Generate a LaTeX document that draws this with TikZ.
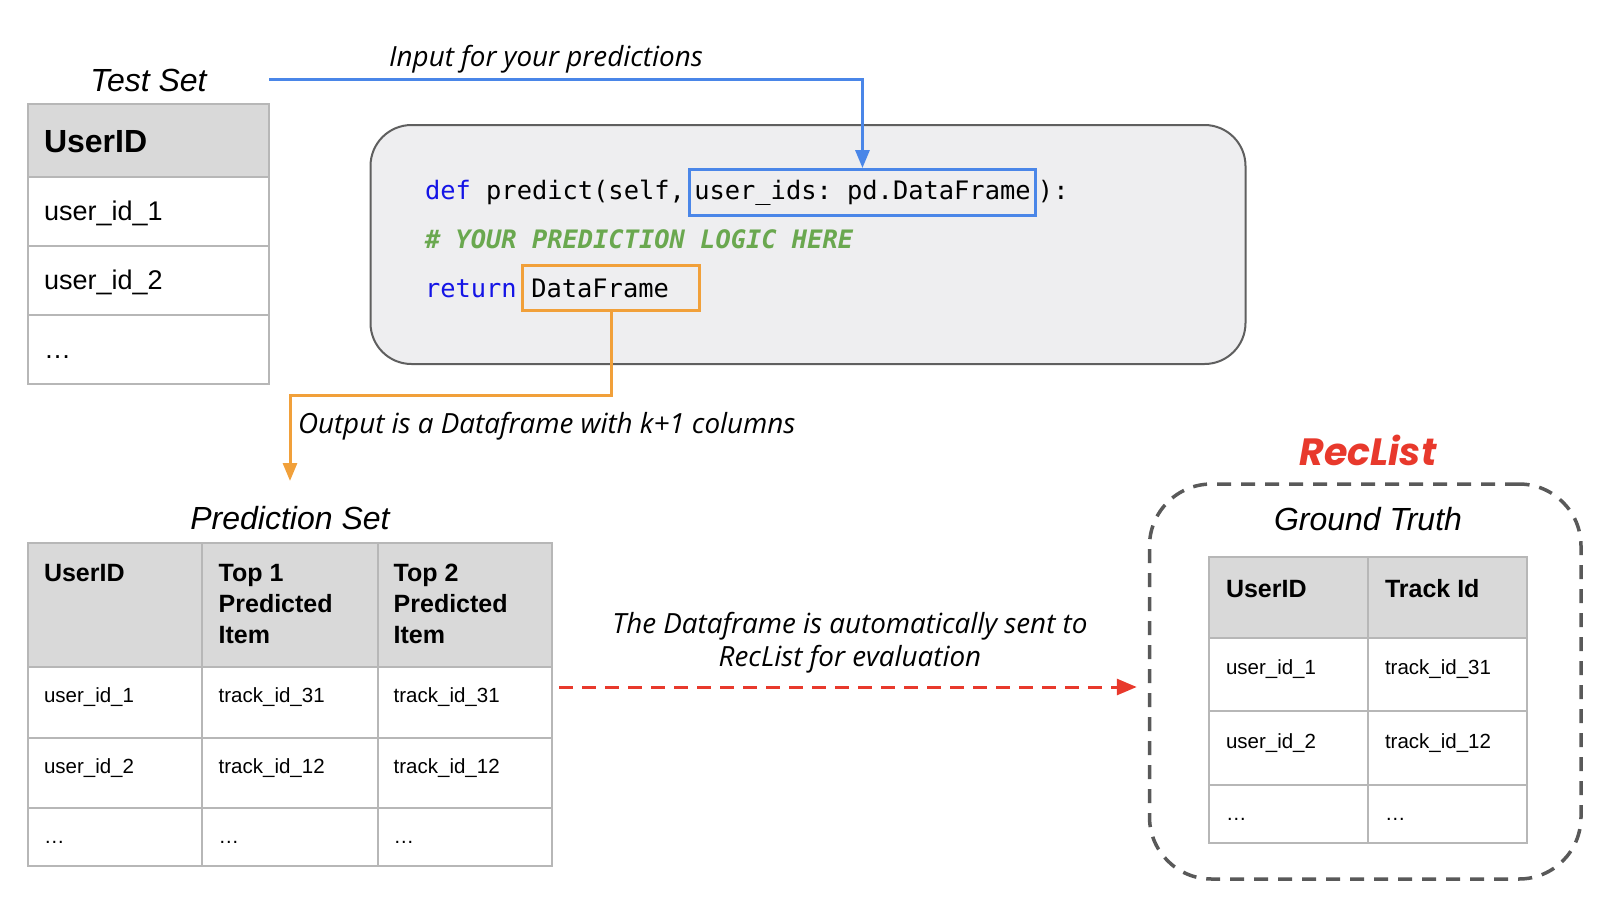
\documentclass[tikz,border=0pt]{standalone}
\usepackage{fontspec}
\setmainfont{Liberation Sans}
\newfontfamily\codefont{DejaVu Sans Mono}
\newfontfamily\notefont{Open Sans}
\newfontfamily\brandfont{Poppins}
\usetikzlibrary{positioning,arrows.meta}

\definecolor{inblue}{HTML}{4A86E8}
\definecolor{outorange}{HTML}{F1A03A}
\definecolor{recred}{HTML}{E8392C}
\definecolor{kwblue}{HTML}{1414E6}
\definecolor{cmtgreen}{HTML}{6AA84F}
\definecolor{gridgray}{HTML}{B7B7B7}
\definecolor{headgray}{HTML}{D9D9D9}
\definecolor{panelgray}{HTML}{EEEEF0}
\definecolor{edgegray}{HTML}{5F5F5F}
\definecolor{dashgray}{HTML}{595959}

\tikzset{
every picture/.style={
line width=2pt
},
settitle/.style={anchor=base, inner sep=0, font=\itshape\fontsize{32}{38}\selectfont},
notetext/.style={inner sep=0, font=\notefont\itshape\fontsize{27.8}{33}\selectfont},
gridline/.style={draw=gridgray, line width=2pt},
bighead/.style={anchor=base west, inner sep=0, font=\bfseries\fontsize{32}{36}\selectfont},
bigcell/.style={anchor=base west, inner sep=0, font=\fontsize{27}{32}\selectfont},
tabhead/.style={anchor=north west, inner sep=0, align=left, font=\bfseries\fontsize{25}{31}\selectfont},
tabcell/.style={anchor=base west, inner sep=0, font=\fontsize{20.5}{24}\selectfont},
codetxt/.style={inner sep=0, font=\codefont\frenchspacing\fontsize{25.4}{30}\selectfont},
codepanel/.style={draw=edgegray, fill=panelgray, rounded corners=41pt, line width=2pt},
argbox/.style={codetxt, draw=inblue, line width=3pt, inner xsep=0pt, minimum width=346pt, minimum height=45.6pt},
retbox/.style={codetxt, draw=outorange, line width=3pt, inner xsep=9pt, text width=159.6pt, minimum height=45.6pt, align=left},
recbox/.style={draw=dashgray, line width=3.5pt, dash pattern=on 14pt off 10pt, rounded corners=62pt},
inarrow/.style={draw=inblue, line width=3pt, -{Triangle[length=18pt,width=14pt]}},
outarrow/.style={draw=outorange, line width=3pt, -{Triangle[length=18pt,width=14pt]}},
evalarrow/.style={draw=recred, line width=3pt, dash pattern=on 14pt off 9pt, -{Triangle[length=20pt,width=16pt]}}
}

\begin{document}
\begin{tikzpicture}[x=1pt, y=-1pt]
\useasboundingbox (0,0) rectangle (1618,916);

% test set
\node[settitle] (testtitle) at (148.5,91) {Test Set};
\fill[headgray] (28,104) rectangle (269,176.5);
\foreach \y in {176.5,245.6,314.7} \draw[gridline] (28,\y) -- (269,\y);
\draw[gridline] (28,104) rectangle (269,384);
\node[bighead] (t-head) at (43,152) {UserID};
\foreach \u/\y [count=\r] in {user\_id\_1/220, user\_id\_2/289, …/358}
  \node[bigcell] (t-\r) at (43,\y) {\u};

% the predict() code
\node[codepanel, minimum width=875pt, minimum height=239pt] (panel) at (808,244.5) {};
\node[codetxt, anchor=base west] (sig) at (424,199) {\textcolor{kwblue}{def} predict(self,};
\node[argbox, base right=2pt of sig] (args) {user\_ids: pd.DataFrame};
\node[codetxt, base right=0pt of args] (close) {):};
\node[codetxt, anchor=base west, text=cmtgreen, font=\codefont\bfseries\itshape\fontsize{25.4}{30}\selectfont] (cmt) at (424,248) {\# YOUR PREDICTION LOGIC HERE};
\node[codetxt, anchor=base west, text=kwblue] (retkw) at (424,297) {return};
\node[retbox, base right=3pt of retkw] (ret) {DataFrame};

% input arrow
\coordinate (inStart) at (269,79.5);
\draw[inarrow] (inStart) -| (args.north);
\node[notetext, anchor=base] (inlabel) at (546,66) {Input for your predictions};

% output arrow
\coordinate (outTurn) at (290,395);
\coordinate (outEnd) at (290,481);
\draw[outarrow] (ret.south) |- (outTurn) -- (outEnd);
\node[notetext, anchor=base west] (outlabel) at (297,433) {Output is a Dataframe with k+1 columns};

% prediction set
\node[settitle] (predtitle) at (290,529.5) {Prediction Set};
\fill[headgray] (28,543) rectangle (552,666.6);
\foreach \x in {202,377.7} \draw[gridline] (\x,543) -- (\x,866);
\foreach \y in {666.6,738,808} \draw[gridline] (28,\y) -- (552,\y);
\draw[gridline] (28,543) rectangle (552,866);
\node[tabhead] (p-h1) at (43,563) {UserID};
\node[tabhead] (p-h2) at (217.7,563) {Top 1\\Predicted\\Item};
\node[tabhead] (p-h3) at (392.7,563) {Top 2\\Predicted\\Item};
\foreach \u/\a/\b/\y [count=\r] in {user\_id\_1/track\_id\_31/track\_id\_31/702, user\_id\_2/track\_id\_12/track\_id\_12/773, …/…/…/843}{
  \node[tabcell] (p-\r-1) at (43,\y) {\u};
  \node[tabcell] (p-\r-2) at (217.7,\y) {\a};
  \node[tabcell] (p-\r-3) at (392.7,\y) {\b};
}

% reclist + ground truth
\node[recbox, minimum width=431.5pt, minimum height=395pt] (gtbox) at (1365.25,681.5) {};
\node[anchor=base, inner sep=0, text=recred, font=\brandfont\bfseries\itshape\fontsize{38}{44}\selectfont] (reclist) at (1368,465) {RecList};
\node[settitle] (gttitle) at (1368,530) {Ground Truth};
\fill[headgray] (1209,557) rectangle (1527,638);
\draw[gridline] (1368,557) -- (1368,843);
\foreach \y in {638,711,785} \draw[gridline] (1209,\y) -- (1527,\y);
\draw[gridline] (1209,557) rectangle (1527,843);
\node[tabhead, anchor=base west] (g-h1) at (1225,597) {UserID};
\node[tabhead, anchor=base west] (g-h2) at (1384,597) {Track Id};
\foreach \u/\t/\y [count=\r] in {user\_id\_1/track\_id\_31/674.5, user\_id\_2/track\_id\_12/748, …/…/820}{
  \node[tabcell] (g-\r-1) at (1225,\y) {\u};
  \node[tabcell] (g-\r-2) at (1384,\y) {\t};
}

% sent to reclist
\coordinate (evalStart) at (559,687);
\draw[evalarrow, shorten >=11pt] (evalStart) -- (evalStart -| gtbox.west);
\node[notetext, align=center] (evallabel) at (850,643) {The Dataframe is automatically sent to\\RecList for evaluation};
\end{tikzpicture}
\end{document}
